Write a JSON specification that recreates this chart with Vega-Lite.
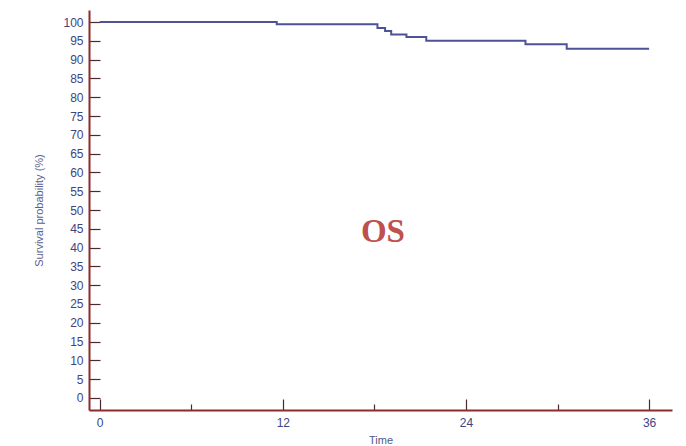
{
  "$schema": "https://vega.github.io/schema/vega-lite/v6.json",
  "width": 583,
  "height": 400,
  "autosize": {"type": "none"},
  "padding": {"left": 89, "top": 10, "right": 14, "bottom": 36},
  "background": "white",
  "config": {
    "view": {"stroke": null},
    "axis": {"labelFont": "Liberation Sans", "titleFont": "Liberation Sans", "grid": false}
  },
  "encoding": {
    "x": {
      "field": "time", "type": "quantitative",
      "scale": {"domain": [-0.7, 37.5], "nice": false, "zero": false},
      "axis": {
        "title": "Time", "titleColor": "#4b5a8a", "titleFontSize": 11, "titleFontWeight": "normal", "titlePadding": 1,
        "values": [0, 6, 12, 18, 24, 30, 36],
        "labelExpr": "datum.value % 12 === 0 ? datum.label : ''",
        "labelColor": "#3f4380", "labelFontSize": 12, "labelPadding": 18, "labelOverlap": false,
        "domainColor": "#8b2b2b", "domainWidth": 2,
        "tickColor": "#4a2a2a", "tickWidth": 1.2,
        "tickSize": {"condition": {"test": "datum.value % 12 === 0", "value": -11}, "value": -6}
      }
    },
    "y": {
      "field": "surv", "type": "quantitative",
      "scale": {"domain": [-3.2, 103.2], "nice": false, "zero": false},
      "axis": {
        "title": "Survival probability (%)", "titleColor": "#5a6090", "titleFontSize": 11, "titleFontWeight": "normal",
        "titlePadding": 18,
        "values": [0, 5, 10, 15, 20, 25, 30, 35, 40, 45, 50, 55, 60, 65, 70, 75, 80, 85, 90, 95, 100],
        "labelColor": "#3f4380", "labelFontSize": 12, "labelPadding": 17, "labelOverlap": false,
        "domainColor": "#8b2b2b", "domainWidth": 2,
        "tickColor": "#4a2a2a", "tickWidth": 1.2, "tickSize": -11
      }
    }
  },
  "layer": [
    {
      "data": {"values": [
        {"time": 0, "surv": 100},
        {"time": 11.6, "surv": 99.4},
        {"time": 18.2, "surv": 98.4},
        {"time": 18.7, "surv": 97.6},
        {"time": 19.1, "surv": 96.7},
        {"time": 20.1, "surv": 96.0},
        {"time": 21.4, "surv": 95.0},
        {"time": 27.9, "surv": 94.1},
        {"time": 30.6, "surv": 92.9},
        {"time": 36, "surv": 92.9}
      ]},
      "mark": {"type": "line", "interpolate": "step-after", "color": "#4e5296", "strokeWidth": 2}
    },
    {
      "data": {"values": [{"time": 18.56, "surv": 44.1, "label": "OS"}]},
      "mark": {"type": "text", "font": "Liberation Serif", "fontWeight": "bold", "fontSize": 33, "color": "#c0504d", "baseline": "middle", "align": "center"},
      "encoding": {
        "text": {"field": "label"}
      }
    }
  ]
}
